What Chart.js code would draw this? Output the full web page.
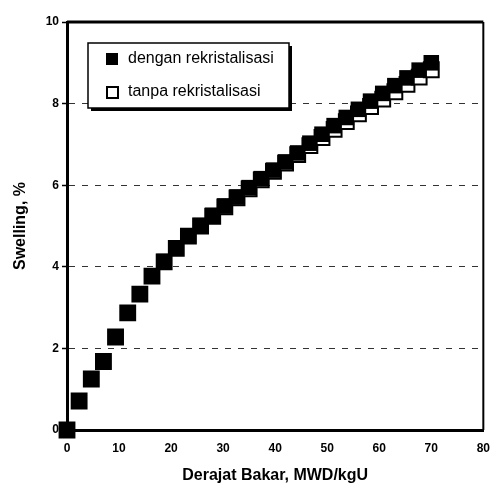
<!DOCTYPE html>
<html>
<head>
<meta charset="utf-8">
<script src="https://cdn.jsdelivr.net/npm/chart.js@4/dist/chart.umd.min.js"></script>
<style>
html,body{margin:0;padding:0;background:#fff;}
#wrap{width:501px;height:488px;}
</style>
</head>
<body>
<div id="wrap"><canvas id="c" width="501" height="488"></canvas></div>
<script>
const burnup = [0, 2.33, 4.67, 7, 9.33, 11.67, 14, 16.33, 18.67, 21, 23.33, 25.67, 28, 30.33, 32.67, 35, 37.33, 39.67, 42, 44.33, 46.67, 49, 51.33, 53.67, 56, 58.33, 60.67, 63, 65.33, 67.67, 70];
const swellingRekristalisasi = [0, 0.71, 1.25, 1.68, 2.28, 2.87, 3.33, 3.77, 4.13, 4.46, 4.76, 5.01, 5.26, 5.49, 5.71, 5.94, 6.16, 6.37, 6.57, 6.79, 7.03, 7.25, 7.46, 7.66, 7.86, 8.06, 8.25, 8.44, 8.63, 8.82, 9.0];
const swellingTanpa = [0, 0.71, 1.25, 1.68, 2.28, 2.87, 3.33, 3.77, 4.12, 4.45, 4.75, 5.0, 5.24, 5.47, 5.69, 5.91, 6.13, 6.34, 6.54, 6.75, 6.97, 7.17, 7.37, 7.56, 7.75, 7.93, 8.11, 8.29, 8.47, 8.65, 8.83];
const seriesLabels = ['dengan rekristalisasi', 'tanpa rekristalisasi'];
const xTitle = 'Derajat Bakar, MWD/kgU';
const yTitle = 'Swelling, %';

const toPoints = (ys) => ys.map((y, i) => ({x: burnup[i], y: y}));

const framePlugin = {
  id: 'frame',
  beforeDatasetsDraw(chart) {
    const {ctx, chartArea: a} = chart;
    ctx.save();
    ctx.strokeStyle = '#000';
    ctx.lineWidth = 3;
    ctx.beginPath();
    ctx.moveTo(a.left, a.top);
    ctx.lineTo(a.right, a.top);
    ctx.stroke();
    ctx.lineWidth = 2;
    ctx.beginPath();
    ctx.moveTo(a.right, a.top);
    ctx.lineTo(a.right, a.bottom);
    ctx.stroke();
    ctx.restore();
  }
};

const legendPlugin = {
  id: 'boxLegend',
  afterDraw(chart) {
    const {ctx} = chart;
    const x = 88, y = 43, w = 201, h = 65;
    ctx.save();
    ctx.fillStyle = '#000';
    ctx.fillRect(x + 3, y + 3, w, h);
    ctx.fillStyle = '#fff';
    ctx.fillRect(x, y, w, h);
    ctx.strokeStyle = '#000';
    ctx.lineWidth = 1.5;
    ctx.strokeRect(x, y, w, h);
    const rows = [59, 92];
    chart.data.datasets.forEach((ds, i) => {
      const cy = rows[i];
      ctx.fillStyle = ds.backgroundColor;
      ctx.fillRect(106, cy - 6, 12, 12);
      if (ds.borderWidth) {
        ctx.strokeStyle = ds.borderColor;
        ctx.lineWidth = 2;
        ctx.strokeRect(107, cy - 5, 11, 11);
      }
      ctx.fillStyle = '#000';
      ctx.font = '16px "Liberation Sans", Arial, sans-serif';
      ctx.textBaseline = 'middle';
      ctx.textAlign = 'left';
      ctx.fillText(ds.label, 128, cy);
    });
    ctx.restore();
  }
};

new Chart(document.getElementById('c'), {
  type: 'scatter',
  data: {
    datasets: [
      {
        label: seriesLabels[0],
        data: toPoints(swellingRekristalisasi),
        pointStyle: 'rect',
        pointRadius: 11,
        pointHoverRadius: 11,
        backgroundColor: '#000',
        borderColor: '#000',
        borderWidth: 0,
        showLine: false,
        clip: false
      },
      {
        label: seriesLabels[1],
        data: toPoints(swellingTanpa),
        pointStyle: 'rect',
        pointRadius: 10.5,
        pointHoverRadius: 10.5,
        backgroundColor: '#fff',
        borderColor: '#000',
        borderWidth: 2,
        showLine: false,
        clip: false
      }
    ]
  },
  options: {
    responsive: false,
    animation: false,
    events: [],
    layout: {padding: {top: 22, right: 14, left: 0, bottom: 0}},
    plugins: {legend: {display: false}, tooltip: {enabled: false}},
    scales: {
      x: {
        type: 'linear',
        min: 0, max: 80,
        afterFit(s) { s.height = 58; },
        ticks: {stepSize: 10, color: '#000', padding: 11, maxRotation: 0,
          font: {family: '"Liberation Sans", Arial, sans-serif', size: 12, weight: 'bold'}},
        grid: {display: true, drawOnChartArea: false, drawTicks: false},
        border: {display: true, color: '#000', width: 3},
        title: {display: true, text: xTitle, color: '#000', padding: {top: 0, bottom: 3},
          font: {family: '"Liberation Sans", Arial, sans-serif', size: 16, weight: 'bold'}}
      },
      y: {
        type: 'linear',
        min: 0, max: 10,
        afterFit(s) { s.width = 67; },
        ticks: {stepSize: 2, color: '#000', padding: 3,
          font: {family: '"Liberation Sans", Arial, sans-serif', size: 12, weight: 'bold'}},
        grid: {display: true, drawOnChartArea: true, drawTicks: true, tickLength: 5,
          color: '#333', lineWidth: 1, tickColor: '#000', tickBorderDash: [], tickWidth: 1.5},
        border: {display: true, color: '#000', width: 3, dash: [6, 7]},
        title: {display: true, text: yTitle, color: '#000', padding: {top: 11, bottom: 0},
          font: {family: '"Liberation Sans", Arial, sans-serif', size: 16, weight: 'bold'}}
      }
    }
  },
  plugins: [framePlugin, legendPlugin]
});
</script>
</body>
</html>
